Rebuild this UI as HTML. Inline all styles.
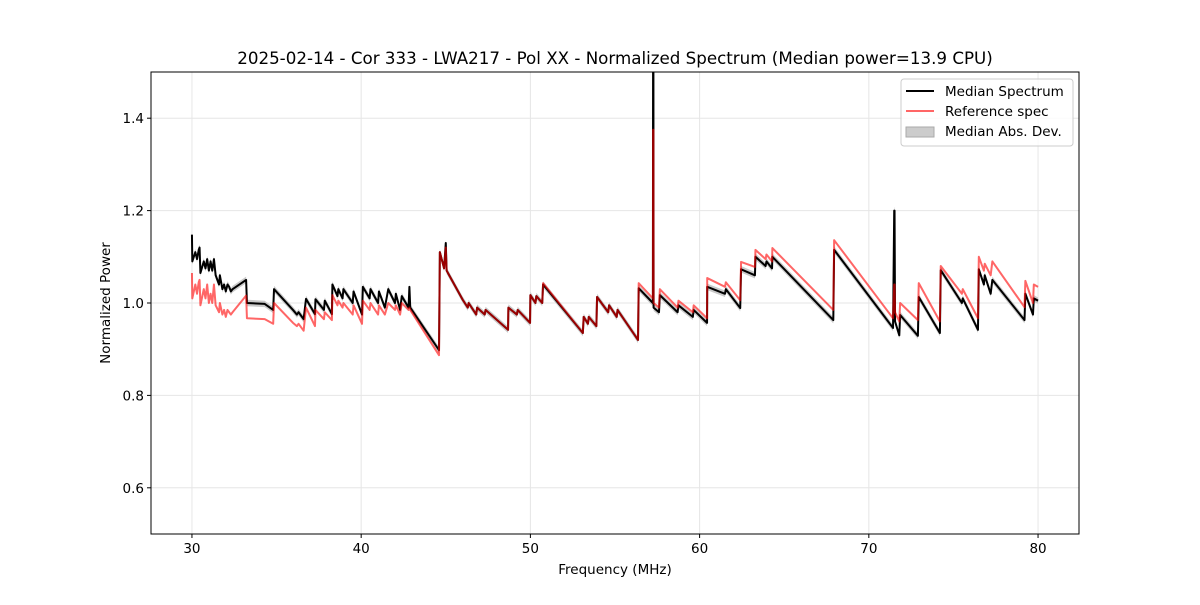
<!DOCTYPE html>
<html><head><meta charset="utf-8"><style>
body{margin:0;background:#fff;}
svg text{font-family:"DejaVu Sans","Liberation Sans",sans-serif;fill:#000;}
</style></head><body>
<svg id="chart" width="1200" height="600" xmlns="http://www.w3.org/2000/svg">
<rect x="0" y="0" width="1200" height="600" fill="#fff"/>
<text x="615" y="64" font-size="16.7" text-anchor="middle">2025-02-14 - Cor 333 - LWA217 - Pol XX - Normalized Spectrum (Median power=13.9 CPU)</text>
<g id="grid"></g>
<g id="plot"></g>
<rect x="151" y="72" width="928" height="462" fill="none" stroke="#000" stroke-width="1"/>
<g id="ticks"></g>
<text x="615" y="574" font-size="13.5" text-anchor="middle">Frequency (MHz)</text>
<text transform="translate(110,303) rotate(-90)" font-size="13.5" text-anchor="middle">Normalized Power</text>
<g>
<rect x="901" y="79" width="172" height="67" rx="3" fill="#fff" fill-opacity="0.8" stroke="#ccc"/>
<line x1="906" y1="91" x2="934" y2="91" stroke="#000" stroke-width="2"/>
<text x="945" y="96" font-size="13.5">Median Spectrum</text>
<line x1="906" y1="111" x2="934" y2="111" stroke="rgba(255,0,0,0.6)" stroke-width="2"/>
<text x="945" y="116" font-size="13.5">Reference spec</text>
<rect x="906" y="127" width="28" height="10" fill="#ccc" stroke="#aaa"/>
<text x="945" y="136" font-size="13.5">Median Abs. Dev.</text>
</g>
</svg>
<script>
const freq = [30.00,30.02,30.2,30.3,30.4,30.45,30.5,30.7,30.8,30.9,31.0,31.1,31.2,31.3,31.4,31.6,31.65,31.8,31.9,32.0,32.1,32.2,32.3,32.4,33.2,33.25,34.3,34.8,34.85,35.97,36.2,36.3,36.5,36.6,36.74,37.27,37.3,37.8,37.85,38.27,38.3,38.6,38.65,38.9,38.95,39.5,39.55,40.05,40.1,40.5,40.55,41.0,41.05,41.4,41.6,42.0,42.05,42.3,42.4,42.8,42.85,42.9,44.6,44.65,44.9,45.0,45.05,46.0,46.3,46.35,46.8,46.85,47.3,47.35,48.68,48.7,49.2,49.25,49.98,50.0,50.3,50.35,50.7,50.75,53.1,53.15,53.4,53.45,53.9,53.94,54.6,54.65,55.1,55.15,56.36,56.4,57.24,57.25,57.27,57.28,57.6,57.65,58.7,58.75,59.6,59.65,60.44,60.45,61.5,61.55,62.4,62.45,63.27,63.3,63.9,63.95,64.28,64.3,67.9,67.95,71.43,71.5,71.52,71.55,71.8,71.85,72.9,72.95,74.2,74.25,75.5,75.55,76.45,76.5,76.8,76.85,77.2,77.3,79.2,79.25,79.7,79.75,80.0];
const median = [1.148,1.09,1.11,1.095,1.115,1.12,1.065,1.09,1.075,1.095,1.07,1.09,1.07,1.095,1.06,1.04,1.06,1.03,1.04,1.025,1.04,1.035,1.025,1.03,1.05,1.0,0.998,0.985,1.03,0.985,0.975,0.98,0.97,0.965,1.009,0.976,1.008,0.985,1.005,0.976,1.04,1.015,1.03,1.01,1.03,1.0,1.025,0.975,1.035,1.01,1.03,1.0,1.025,0.99,1.03,1.0,1.02,0.985,1.015,0.99,1.035,0.99,0.898,1.11,1.075,1.13,1.07,1.007,0.99,1.0,0.975,0.99,0.975,0.985,0.942,0.99,0.975,0.985,0.957,1.017,1.0,1.015,1.0,1.04,0.935,0.97,0.955,0.97,0.95,1.013,0.98,0.995,0.97,0.985,0.92,1.032,1.0,1.5,1.5,0.99,0.98,1.017,0.98,0.995,0.97,0.985,0.957,1.035,1.02,1.03,0.989,1.073,1.06,1.1,1.08,1.09,1.075,1.1,0.963,1.115,0.946,1.2,1.2,0.96,0.93,0.974,0.929,1.013,0.935,1.071,1.0,1.01,0.942,1.073,1.04,1.06,1.02,1.05,0.963,1.02,0.975,1.01,1.005];
const reference = [1.065,1.01,1.04,1.02,1.045,1.05,0.995,1.03,1.01,1.04,1.0,1.02,1.0,1.04,0.995,0.98,1.0,0.975,0.985,0.97,0.985,0.98,0.975,0.98,1.016,0.967,0.965,0.955,1.0,0.957,0.95,0.955,0.945,0.94,0.99,0.95,0.985,0.965,0.98,0.963,1.017,0.995,1.005,0.99,1.0,0.975,0.995,0.955,1.005,0.985,1.0,0.975,0.995,0.975,1.0,0.985,0.995,0.975,1.0,0.985,0.99,0.985,0.887,1.11,1.075,1.12,1.07,1.007,0.99,1.0,0.975,0.99,0.975,0.985,0.942,0.99,0.975,0.985,0.957,1.017,1.0,1.015,1.0,1.043,0.935,0.97,0.955,0.97,0.95,1.013,0.98,0.995,0.97,0.985,0.92,1.043,1.01,1.375,1.375,1.0,0.99,1.03,0.99,1.005,0.98,0.995,0.967,1.054,1.035,1.045,1.006,1.089,1.078,1.115,1.095,1.105,1.09,1.119,0.985,1.136,0.967,1.04,1.04,0.98,0.96,1.0,0.963,1.043,0.96,1.08,1.02,1.03,0.967,1.1,1.07,1.085,1.06,1.09,0.991,1.048,1.0,1.04,1.035];
const xTicks = [30,40,50,60,70,80];
const yTicks = [0.6,0.8,1.0,1.2,1.4];
const madHalf = 0.007;

const X0=151,X1=1079,Y0=72,Y1=534, xmin=27.58, xmax=82.42, ymin=0.5, ymax=1.5;
const xs = v => X0 + (v - xmin) / (xmax - xmin) * (X1 - X0);
const ys = v => Y1 - (Math.min(v, 1.52) - ymin) / (ymax - ymin) * (Y1 - Y0);
const NS='http://www.w3.org/2000/svg';
const grid=document.getElementById('grid'), plot=document.getElementById('plot'), ticks=document.getElementById('ticks');
function mk(tag, attrs, parent){const e=document.createElementNS(NS,tag);for(const k in attrs)e.setAttribute(k,attrs[k]);parent.appendChild(e);return e;}

xTicks.forEach(t=>{
  const x=xs(t);
  const g=mk('line',{x1:x,x2:x,y1:Y0,y2:Y1,stroke:'#e6e6e6','stroke-width':1},grid);
  
  
  const tk=mk('line',{x1:x,x2:x,y1:Y1,y2:Y1+4,stroke:'#000'},ticks);
  
  
  const tx=mk('text',{x:x,y:Y1+19,'font-size':13.5,'text-anchor':'middle'},ticks);
  tx.textContent=t;
  
  
});
yTicks.forEach(t=>{
  const y=ys(t);
  const g=mk('line',{x1:X0,x2:X1,y1:y,y2:y,stroke:'#e6e6e6','stroke-width':1},grid);
  
  
  const tk=mk('line',{x1:X0-4,x2:X0,y1:y,y2:y,stroke:'#000'},ticks);
  
  
  const tx=mk('text',{x:X0-7,y:y+5,'font-size':13.5,'text-anchor':'end'},ticks);
  tx.textContent=t.toFixed(1);
  
  
});

const clip=mk('clipPath',{id:'pc'},plot);
mk('rect',{x:X0,y:Y0,width:X1-X0,height:Y1-Y0},clip);
const inner=mk('g',{'clip-path':'url(#pc)'},plot);

let up=freq.map((f,i)=>xs(f)+','+ys(median[i]+madHalf));
let dn=freq.map((f,i)=>xs(f)+','+ys(median[i]-madHalf)).reverse();
const band=mk('polygon',{points:up.concat(dn).join(' '),fill:'#bbb','fill-opacity':0.8},inner);



const ml=mk('polyline',{points:freq.map((f,i)=>xs(f)+','+ys(median[i])).join(' '),fill:'none',stroke:'#000','stroke-width':2,'stroke-linejoin':'round'},inner);



const rl=mk('polyline',{points:freq.map((f,i)=>xs(f)+','+ys(reference[i])).join(' '),fill:'none',stroke:'rgba(255,0,0,0.6)','stroke-width':2,'stroke-linejoin':'round'},inner);


</script>
</body></html>
